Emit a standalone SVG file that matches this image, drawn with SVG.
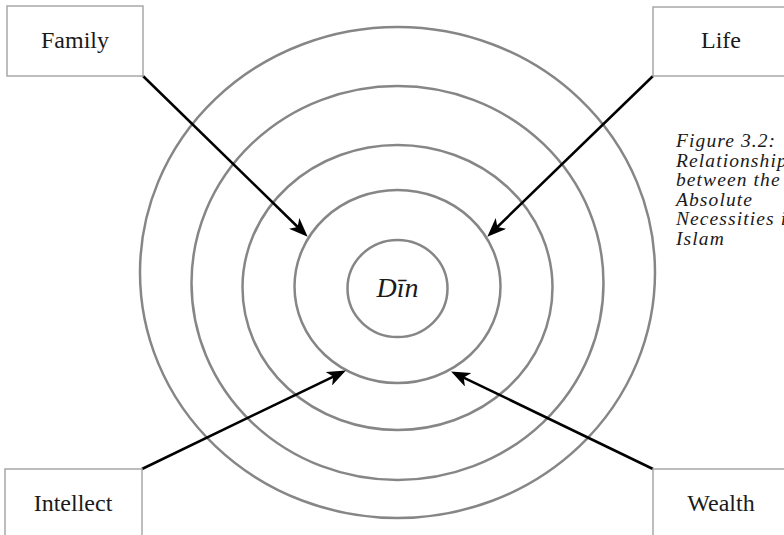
<svg xmlns="http://www.w3.org/2000/svg" width="784" height="535" viewBox="0 0 784 535">
<style>
.ring{fill:none;stroke:#868686;stroke-width:2.5}
.box{fill:#fff;stroke:#a8a8a8;stroke-width:1.5}
.lbl{font-family:"Liberation Serif","Times New Roman",serif;font-size:24px;fill:#1a1a1a;text-anchor:middle}
.cap{font-family:"Liberation Serif","Times New Roman",serif;font-size:19.5px;font-style:italic;letter-spacing:1.1px;fill:#1a1a1a}
.arr{stroke:#000;stroke-width:2.5;fill:none;marker-end:url(#ah)}
</style>
<defs>
<marker id="ah" viewBox="0 0 19 15" refX="8" refY="7.5" markerWidth="19" markerHeight="15" markerUnits="userSpaceOnUse" orient="auto">
<path d="M0,0 L19,7.5 L0,15 L5,7.5 z" fill="#000"/>
</marker>
</defs>
<rect width="784" height="535" fill="#fff"/>
<g id="rings">
<ellipse class="ring" cx="397.5" cy="272.5" rx="257.5" ry="245.5"/>
<ellipse class="ring" cx="397.5" cy="283" rx="206" ry="197"/>
<ellipse class="ring" cx="397.5" cy="287.5" rx="155" ry="142.5"/>
<ellipse class="ring" cx="397.5" cy="286.5" rx="103" ry="96.5"/>
</g>
<g id="din">
<ellipse class="ring" cx="397.5" cy="288.5" rx="50" ry="48.5"/>
<text x="397.5" y="297" class="lbl" style="font-style:italic;font-size:28px">Dīn</text>
</g>
<g id="connectors">
<line class="arr" x1="143" y1="76" x2="299.8" y2="229"/>
<line class="arr" x1="653" y1="76" x2="495.2" y2="229"/>
<line class="arr" x1="142" y1="469" x2="336" y2="375.3"/>
<line class="arr" x1="653" y1="469" x2="461" y2="376.3"/>
</g>
<g id="family">
<rect class="box" x="7" y="6" width="136" height="70"/>
<text x="75" y="48" class="lbl">Family</text>
</g>
<g id="life">
<rect class="box" x="653" y="7" width="136" height="69"/>
<text x="721" y="48" class="lbl">Life</text>
</g>
<g id="intellect">
<rect class="box" x="5" y="469" width="137" height="72"/>
<text x="73" y="511" class="lbl">Intellect</text>
</g>
<g id="wealth">
<rect class="box" x="653" y="469" width="137" height="72"/>
<text x="721" y="511" class="lbl">Wealth</text>
</g>
<g id="caption">
<text class="cap" x="676" y="147">Figure 3.2:</text>
<text class="cap" x="676" y="166.5">Relationship</text>
<text class="cap" x="676" y="186">between the</text>
<text class="cap" x="676" y="205.5">Absolute</text>
<text class="cap" x="676" y="225">Necessities in</text>
<text class="cap" x="676" y="244.5">Islam</text>
</g>
</svg>
